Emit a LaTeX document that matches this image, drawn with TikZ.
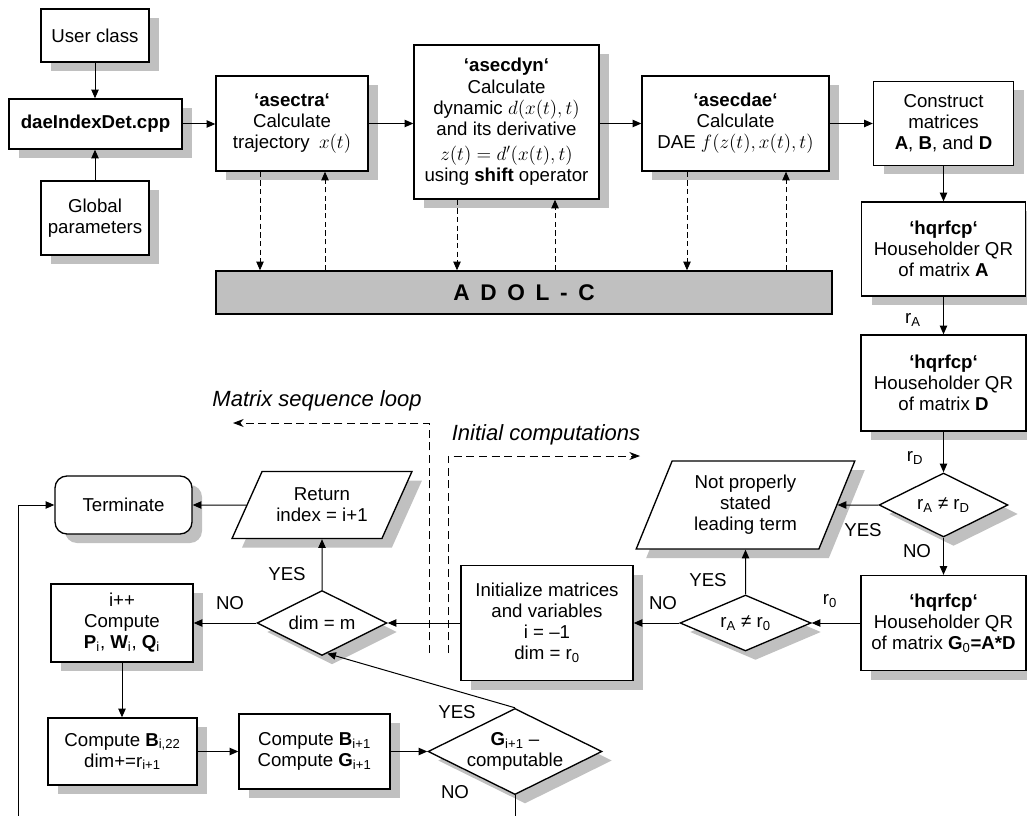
\documentclass[tikz,border=0pt]{standalone}
\usepackage{fontspec}
\setmainfont{Liberation Sans}
\usetikzlibrary{shapes.geometric,shadows,arrows.meta,calc}
\definecolor{shgray}{RGB}{192,192,192}
\begin{document}
\begin{tikzpicture}[x=0.75pt,y=-0.75pt,
  font=\fontsize{14}{15.7}\selectfont,
  sz/.style n args={2}{minimum width=#1*0.75pt,minimum height=#2*0.75pt},
  box/.style={draw,line width=1pt,fill=white,align=center,inner sep=0pt,
    drop shadow={shadow xshift=7.5pt,shadow yshift=-6.75pt,fill=shgray,opacity=1}},
  dia/.style={box,diamond,aspect=2},
  para/.style={box,trapezium,trapezium stretches=true},
  arr/.style={-{Triangle[length=6.5pt,width=5.5pt]},line width=0.75pt},
  darr/.style={arr,dash pattern=on 4pt off 2.5pt},
  looparr/.style={-{Stealth[length=8pt,width=6pt]},line width=0.75pt,dash pattern=on 6pt off 3.5pt},
  lbl/.style={inner sep=0pt},
  note/.style={inner sep=0pt,font=\fontsize{16.5}{19}\selectfont\itshape}]
\useasboundingbox (0,0) rectangle (1027,816);
\fill[white] (0,0) rectangle (1027,816);

% top row
\node[box,sz={108}{53}] (uc) at (95,35.5) {User class};
\node[box,sz={173}{50}] (dae) at (95.5,124) {\textbf{daeIndexDet.cpp}};
\node[box,sz={108}{74}] (gp) at (95,218) {Global\\parameters};
\node[box,sz={152}{95}] (tra) at (292,123.5) {\textbf{‘asectra‘}\\Calculate\\trajectory\enspace $x(t)$};
\node[box,sz={185}{154},font=\fontsize{14}{16}\selectfont] (dyn) at (506.5,122) {\textbf{‘asecdyn‘}\\Calculate\\dynamic $d(x(t),t)$\\and its derivative\\[2.5pt]$z(t)=d'(x(t),t)$\\using \textbf{shift} operator};
\node[box,sz={187}{95}] (dae2) at (735.5,123.5) {\textbf{‘asecdae‘}\\Calculate\\DAE $f(z(t),x(t),t)$};
\node[box,sz={140}{84}] (cm) at (943.5,123.5) {Construct\\matrices\\\textbf{A}, \textbf{B}, and \textbf{D}};
\node[box,sz={164}{94}] (hA) at (943.5,249) {\textbf{‘hqrfcp‘}\\Householder QR\\of matrix \textbf{A}};
\node[box,sz={165}{96}] (hD) at (943.5,383) {\textbf{‘hqrfcp‘}\\Householder QR\\of matrix \textbf{D}};
\node[draw,fill=shgray,line width=1pt,sz={616}{43},inner sep=0pt,
  font=\fontsize{17}{20}\selectfont\bfseries] (adol) at (524,292.5)
  {A\hspace{8pt}D\hspace{8pt}O\hspace{8pt}L\hspace{8pt}-\hspace{8pt}C};

% middle / lower part
\node[dia,sz={129}{64}] (d1) at (943.5,505) {r\textsubscript{A} ≠ r\textsubscript{D}};
\node[para,trapezium left angle=67,trapezium right angle=113,sz={219}{88}] (np) at (745.5,505) {Not properly\\stated\\leading term};
\node[box,sz={165}{95}] (hG) at (943.5,623) {\textbf{‘hqrfcp‘}\\Householder QR\\of matrix \textbf{G}\textsubscript{0}\textbf{=A*D}};
\node[dia,sz={131}{56}] (d2) at (745.5,623) {r\textsubscript{A} ≠ r\textsubscript{0}};
\node[box,sz={172}{115}] (init) at (547,623) {Initialize matrices\\and variables\\i = –1\\dim = r\textsubscript{0}};
\node[dia,sz={130}{65}] (dm) at (322,623) {dim = m};
\node[para,trapezium left angle=56,trapezium right angle=124,sz={180}{67}] (ret) at (322,505) {Return\\index = i+1};
\node[box,rounded corners=9pt,sz={137}{58}] (term) at (123.5,505) {Terminate};
\node[box,sz={142}{78}] (ipp) at (122,623) {i++\\Compute\\\textbf{P}\textsubscript{i}, \textbf{W}\textsubscript{i}, \textbf{Q}\textsubscript{i}};
\node[box,sz={149}{67}] (b22) at (122.5,751.5) {Compute \textbf{B}\textsubscript{i,22}\\dim+=r\textsubscript{i+1}};
\node[box,sz={151}{75}] (bg) at (314.5,751.5) {Compute \textbf{B}\textsubscript{i+1}\\Compute \textbf{G}\textsubscript{i+1}};
\node[dia,sz={174}{86}] (gd) at (515,751.5) {\textbf{G}\textsubscript{i+1} –\\computable};

% labels
\node[lbl] (lrA) at (913,320) {r\textsubscript{A}};
\node[lbl] (lrD) at (915,458) {r\textsubscript{D}};
\node[lbl] (y1) at (863,530) {YES};
\node[lbl] (n1) at (917,551) {NO};
\node[lbl] (lr0) at (830,601) {r\textsubscript{0}};
\node[lbl] (y2) at (708,580) {YES};
\node[lbl] (n2) at (663,603) {NO};
\node[lbl] (y3) at (287,574) {YES};
\node[lbl] (n3) at (230,603) {NO};
\node[lbl] (y4) at (457,712) {YES};
\node[lbl] (n4) at (455,792) {NO};
\node[note] (msl) at (317,401) {Matrix sequence loop};
\node[note] (icl) at (546,435) {Initial computations};

% coordinates
\coordinate (fb) at (18,816);
\coordinate (ms) at (429,653);
\coordinate (msend) at (233,423);
\coordinate (ic) at (448,653);
\coordinate (icend) at (640,456);
\coordinate (xa) at (260,0);
\coordinate (xb) at (325,0);
\coordinate (xc) at (457,0);
\coordinate (xd) at (555,0);
\coordinate (xe) at (687,0);
\coordinate (xf) at (786,0);

% connectors top
\draw[arr] (uc.south) -- (uc.south |- dae.north);
\draw[arr] (gp.north) -- (gp.north |- dae.south);
\draw[arr] (dae.east) -- (dae.east -| tra.west);
\draw[arr] (tra.east) -- (tra.east -| dyn.west);
\draw[arr] (tra.east -| dyn.east) -- (dae2.west);
\draw[arr] (dae2.east) -- (dae2.east -| cm.west);
\draw[arr] (cm) -- (hA);
\draw[arr] (hA) -- (hD);
\draw[arr] (hD) -- (d1);

% ADOL-C dashed
\draw[darr] (tra.south -| xa) -- (adol.north -| xa);
\draw[darr] (adol.north -| xb) -- (tra.south -| xb);
\draw[darr] (dyn.south -| xc) -- (adol.north -| xc);
\draw[darr] (adol.north -| xd) -- (dyn.south -| xd);
\draw[darr] (dae2.south -| xe) -- (adol.north -| xe);
\draw[darr] (adol.north -| xf) -- (dae2.south -| xf);

% lower connectors
\draw[arr] (d1) -- (np);
\draw[arr] (d1) -- (hG);
\draw[arr] (hG) -- (d2);
\draw[arr] (d2) -- (np);
\draw[arr] (d2) -- (init);
\draw[arr] (init) -- (dm);
\draw[arr] (dm) -- (ret);
\draw[arr] (ret) -- (term);
\draw[arr] (dm) -- (ipp);
\draw[arr] (ipp.south) -- (ipp.south |- b22.north);
\draw[arr] (b22) -- (bg);
\draw[arr] (bg) -- (gd);
\draw[arr] (gd.north) -- ($(dm.south)!0.08!(dm.east)$);
\draw[line width=0.75pt] (gd.south) -- (gd.south |- fb);
\draw[arr] (fb) |- (term.west);

% loop markers
\draw[looparr] (ms) |- (msend);
\draw[looparr] (ic) |- (icend);
\end{tikzpicture}
\end{document}
